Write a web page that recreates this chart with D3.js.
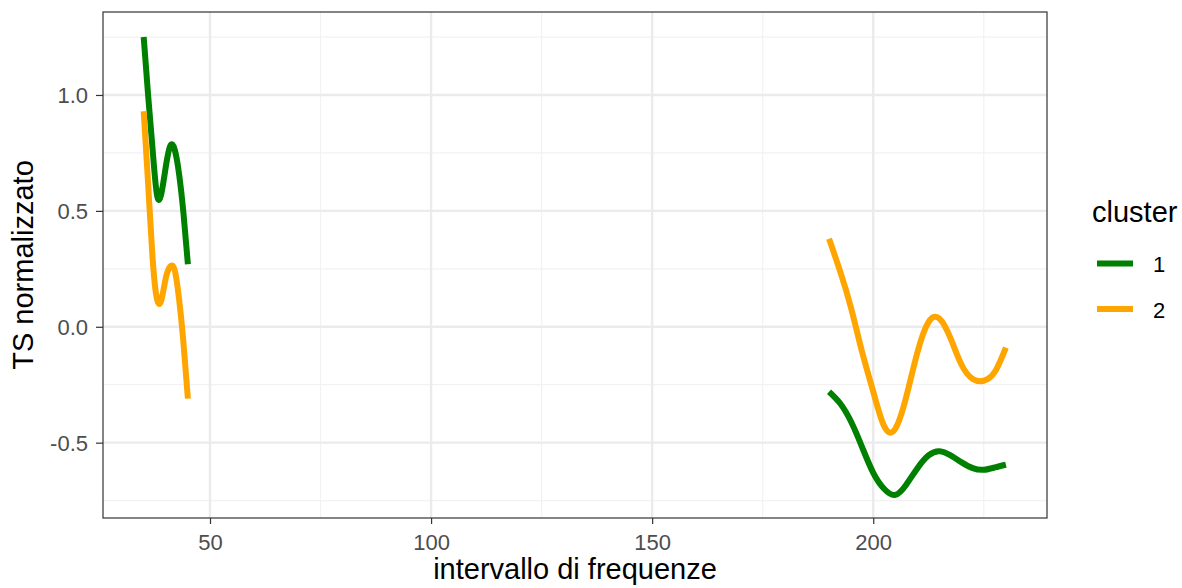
<!DOCTYPE html>
<html>
<head>
<meta charset="utf-8">
<script src="https://cdn.jsdelivr.net/npm/d3@7"></script>
<style>
  body { margin: 0; background: #fff; }
  text { font-family: "Liberation Sans", Arial, sans-serif; }
</style>
</head>
<body>
<svg class="chart" width="1182" height="588"></svg>
<script>
// data
const xLeft = [35, 36, 37, 38, 39, 40, 41, 42, 43, 44, 45];
const xRight = [190, 192.5, 195, 197.5, 200, 202.5, 205, 207.5, 210, 212.5, 215, 217.5, 220, 222.5, 225, 227.5, 230];

const cluster1Left = [1.25, 1.0, 0.77, 0.57, 0.575, 0.69, 0.78, 0.765, 0.66, 0.49, 0.27];
const cluster1Right = [-0.28, -0.33, -0.41, -0.52, -0.63, -0.70, -0.725, -0.68, -0.61, -0.555, -0.537, -0.555, -0.585, -0.61, -0.617, -0.607, -0.595];

const cluster2Left = [0.93, 0.62, 0.30, 0.12, 0.115, 0.21, 0.26, 0.245, 0.12, -0.07, -0.31];
const cluster2Right = [0.38, 0.24, 0.08, -0.11, -0.28, -0.43, -0.44, -0.30, -0.11, 0.02, 0.035, -0.05, -0.165, -0.225, -0.233, -0.195, -0.09];

const clusters = ['1', '2'];
const colors = ['green', 'orange'];
const xTicks = [50, 100, 150, 200];
const yTicks = [-0.5, 0, 0.5, 1.0];

const svg = d3.select('.chart');
const margin = { left: 103, top: 12, right: 135, bottom: 70 };
const width = +svg.attr('width') - margin.left - margin.right;
const height = +svg.attr('height') - margin.top - margin.bottom;

const x = d3.scaleLinear().domain([25.8, 239.3]).range([0, width]);
const y = d3.scaleLinear().domain([-0.825, 1.358]).range([height, 0]);

const g = svg.append('g')
    .attr('transform', `translate(${margin.left},${margin.top})`);

// grid
const xMinor = [75, 125, 175, 225];
const yMinor = [-0.75, -0.25, 0.25, 0.75, 1.25];

g.selectAll('.xminor').data(xMinor).enter().append('line')
    .attr('x1', d => x(d)).attr('x2', d => x(d))
    .attr('y1', 0).attr('y2', height)
    .attr('stroke', '#F2F2F2').attr('stroke-width', 1.2);
g.selectAll('.yminor').data(yMinor).enter().append('line')
    .attr('y1', d => y(d)).attr('y2', d => y(d))
    .attr('x1', 0).attr('x2', width)
    .attr('stroke', '#F2F2F2').attr('stroke-width', 1.2);
g.selectAll('.xmajor').data(xTicks).enter().append('line')
    .attr('x1', d => x(d)).attr('x2', d => x(d))
    .attr('y1', 0).attr('y2', height)
    .attr('stroke', '#EBEBEB').attr('stroke-width', 2.4);
g.selectAll('.ymajor').data(yTicks).enter().append('line')
    .attr('y1', d => y(d)).attr('y2', d => y(d))
    .attr('x1', 0).attr('x2', width)
    .attr('stroke', '#EBEBEB').attr('stroke-width', 2.4);

// lines
const line = d3.line()
    .x(d => x(d[0]))
    .y(d => y(d[1]))
    .curve(d3.curveNatural);

const segments = [
    { c: 0, xs: xLeft, ys: cluster1Left },
    { c: 0, xs: xRight, ys: cluster1Right },
    { c: 1, xs: xLeft, ys: cluster2Left },
    { c: 1, xs: xRight, ys: cluster2Right }
];

segments.forEach(s => {
    g.append('path')
        .datum(s.xs.map((v, i) => [v, s.ys[i]]))
        .attr('d', line)
        .attr('fill', 'none')
        .attr('stroke', colors[s.c])
        .attr('stroke-width', 6);
});

// panel border
g.append('rect')
    .attr('width', width).attr('height', height)
    .attr('fill', 'none').attr('stroke', '#333333').attr('stroke-width', 1.2);

// axes
const xAxis = d3.axisBottom(x).tickValues(xTicks).tickSize(6).tickPadding(5).tickFormat(d3.format('d'));
const yAxis = d3.axisLeft(y).tickValues(yTicks).tickSize(7).tickPadding(8)
    .tickFormat(d => d3.format('.1f')(d).replace('−', '-'));

const xAxisG = g.append('g').attr('transform', `translate(0,${height})`).call(xAxis);
const yAxisG = g.append('g').call(yAxis);

[xAxisG, yAxisG].forEach(a => {
    a.select('.domain').remove();
    a.selectAll('.tick line').attr('stroke', '#333333').attr('stroke-width', 1.2);
    a.selectAll('.tick text')
        .attr('fill', '#4D4D4D')
        .style('font-size', '22px');
});
xAxisG.selectAll('.tick text').attr('dy', null).attr('y', 32);
yAxisG.selectAll('.tick text').attr('dy', '0.36em');

g.append('text')
    .attr('x', width / 2)
    .attr('y', 579 - margin.top)
    .attr('text-anchor', 'middle')
    .style('font-size', '29px')
    .attr('fill', 'black')
    .text('intervallo di frequenze');

g.append('text')
    .attr('transform', `translate(${33 - margin.left},${265 - margin.top}) rotate(-90)`)
    .attr('text-anchor', 'middle')
    .style('font-size', '29px')
    .attr('fill', 'black')
    .text('TS normalizzato');

// legend
const legend = svg.append('g').attr('transform', 'translate(1092,0)');
legend.append('text')
    .attr('x', 0).attr('y', 222)
    .style('font-size', '29px')
    .text('cluster');

clusters.forEach((c, i) => {
    const yy = 263.5 + i * 45.5;
    legend.append('line')
        .attr('x1', 5).attr('x2', 41)
        .attr('y1', yy).attr('y2', yy)
        .attr('stroke', colors[i]).attr('stroke-width', 6);
    legend.append('text')
        .attr('x', 61).attr('y', yy + 8.5)
        .style('font-size', '22px')
        .text(c);
});
</script>
</body>
</html>
